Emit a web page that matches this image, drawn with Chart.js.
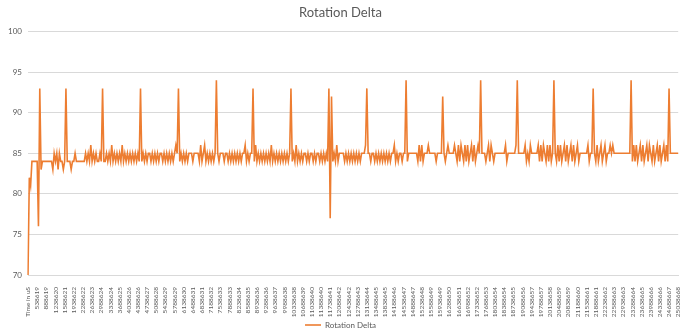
<!DOCTYPE html>
<html>
<head>
<meta charset="utf-8">
<title>Rotation Delta</title>
<script src="https://cdn.jsdelivr.net/npm/chart.js@4.4.1/dist/chart.umd.min.js"></script>
<style>
  html, body { margin: 0; padding: 0; background: #fff; }
  #wrap { width: 690px; height: 328px; position: relative; }
</style>
</head>
<body>
<div id="wrap"><canvas id="chart"></canvas></div>
<script>
  "use strict";

  var SERIES_NAME = "Rotation Delta";

  // axis labels Excel shows (one every 7 samples, first one is the header cell)
  var TIME_TICKS = [
    "Time in uS", "538619", "888619", "1238620", "1588621", "1938622", "2288622", "2638623",
    "2988624", "3338624", "3688625", "4038626", "4388626", "4738627", "5088628", "5438629",
    "5788629", "6138630", "6488631", "6838631", "7188632", "7538633", "7888633", "8238634",
    "8588635", "8938636", "9288636", "9638637", "9988638", "10338638", "10688639", "11038640",
    "11388640", "11738641", "12088642", "12438642", "12788643", "13138644", "13488645", "13838645",
    "14188646", "14538647", "14888647", "15238648", "15588649", "15938649", "16288650", "16638651",
    "16988652", "17338652", "17688653", "18038654", "18388654", "18738655", "19088656", "19438657",
    "19788657", "20138658", "20488659", "20838659", "21188660", "21538661", "21888661", "22238662",
    "22588663", "22938663", "23288664", "23638665", "23988666", "24338666", "24688667", "25038668"
  ];
  var TICK_EVERY = 7;

  var Y_MIN = 70, Y_MAX = 100, Y_STEP = 5;

  // rotation delta, one row per labelled interval
  var DELTA = [
    70, 82, 81, 84, 84, 84, 84,
    84, 76, 93, 83, 84, 84, 84,
    84, 84, 84, 84, 84, 83, 85,
    84, 85, 83, 85, 84, 84, 83,
    84, 93, 84, 84, 84, 83, 84,
    84, 85, 84, 84, 84, 84, 84,
    84, 84, 85, 84, 85, 84, 86,
    84, 85, 84, 85, 84, 84, 85,
    84, 93, 84, 84, 85, 84, 85,
    84, 86, 84, 85, 84, 85, 84,
    85, 84, 86, 84, 85, 84, 85,
    84, 85, 84, 85, 84, 85, 84,
    85, 84, 93, 84, 85, 84, 85,
    84, 85, 85, 84, 85, 84, 85,
    84, 85, 84, 85, 85, 84, 85,
    84, 85, 84, 85, 84, 85, 84,
    85, 86, 85, 93, 84, 85, 84,
    85, 84, 85, 84, 85, 85, 85,
    84, 85, 85, 85, 85, 84, 86,
    84, 85, 86, 84, 85, 84, 85,
    84, 85, 84, 85, 94, 85, 84,
    85, 85, 85, 84, 85, 85, 84,
    85, 84, 85, 84, 85, 84, 85,
    84, 85, 84, 85, 85, 86, 84,
    85, 84, 85, 85, 93, 84, 86,
    84, 85, 84, 85, 84, 85, 84,
    85, 84, 85, 84, 86, 84, 85,
    84, 85, 84, 85, 84, 85, 84,
    85, 84, 85, 84, 85, 93, 84,
    85, 84, 86, 84, 85, 84, 85,
    84, 85, 85, 84, 85, 84, 85,
    85, 84, 85, 84, 85, 85, 84,
    85, 84, 85, 84, 85, 84, 93,
    77, 92, 84, 85, 84, 86, 84,
    85, 85, 85, 85, 84, 85, 84,
    85, 84, 85, 84, 85, 84, 85,
    84, 85, 84, 85, 85, 85, 86,
    93, 85, 85, 84, 85, 85, 84,
    85, 84, 85, 84, 85, 84, 85,
    84, 85, 84, 85, 84, 85, 85,
    86, 84, 85, 84, 85, 85, 84,
    85, 85, 94, 84, 85, 85, 85,
    85, 85, 85, 85, 84, 86, 84,
    86, 84, 85, 85, 85, 86, 85,
    85, 85, 85, 85, 84, 85, 85,
    85, 85, 92, 85, 84, 85, 86,
    85, 85, 85, 85, 86, 85, 84,
    86, 84, 86, 85, 84, 86, 84,
    86, 84, 85, 86, 84, 86, 84,
    85, 86, 85, 94, 85, 85, 85,
    84, 85, 86, 84, 86, 85, 84,
    85, 85, 85, 85, 85, 85, 85,
    85, 86, 84, 85, 85, 85, 85,
    85, 85, 86, 94, 85, 85, 85,
    85, 85, 86, 84, 85, 84, 86,
    85, 85, 85, 85, 85, 86, 84,
    86, 84, 86, 85, 84, 86, 84,
    86, 84, 85, 94, 85, 84, 86,
    84, 86, 84, 85, 86, 84, 86,
    84, 85, 86, 84, 86, 84, 85,
    86, 84, 85, 85, 85, 85, 85,
    85, 86, 84, 85, 85, 93, 85,
    84, 86, 84, 85, 86, 84, 85,
    86, 84, 85, 85, 86, 85, 86,
    85, 85, 85, 85, 85, 85, 85,
    85, 85, 85, 85, 85, 85, 94,
    84, 86, 84, 86, 84, 85, 86,
    84, 86, 84, 85, 86, 84, 86,
    85, 84, 86, 84, 85, 86, 84,
    86, 84, 85, 86, 84, 86, 84,
    93, 85, 85, 85, 85, 85, 85,
    85
  ];

  var FONT = "Lato, 'Open Sans', sans-serif";
  var TEXT = "#595959";
  var GRID = "#d9d9d9";
  var ORANGE = "#ed7d31";

  // only every 7th category carries a label, the rest stay blank
  var labels = DELTA.map(function (v, i) {
    return i % TICK_EVERY === 0 ? (TIME_TICKS[i / TICK_EVERY] || "") : "";
  });

  new Chart(document.getElementById("chart"), {
    type: "line",
    data: {
      labels: labels,
      datasets: [{
        label: SERIES_NAME,
        data: DELTA,
        borderColor: ORANGE,
        backgroundColor: ORANGE,
        borderWidth: 1.6,
        pointRadius: 0,
        pointStyle: "line",
        tension: 0,
        fill: false
      }]
    },
    options: {
      responsive: true,
      maintainAspectRatio: false,
      animation: false,
      layout: { padding: { left: 0, right: 9, top: 0, bottom: -11 } },
      plugins: {
        title: {
          display: true,
          text: SERIES_NAME,
          color: TEXT,
          font: { family: FONT, size: 13, weight: "normal" },
          padding: { top: 5, bottom: 11 }
        },
        legend: {
          position: "bottom",
          labels: {
            usePointStyle: true,
            pointStyle: "line",
            pointStyleWidth: 16,
            boxHeight: 6,
            padding: 0,
            color: TEXT,
            font: { family: FONT, size: 8 }
          }
        },
        tooltip: { enabled: false }
      },
      scales: {
        x: {
          type: "category",
          grid: { display: false },
          border: { display: true, color: GRID },
          ticks: {
            autoSkip: false,
            maxRotation: 90,
            minRotation: 90,
            padding: 4,
            color: TEXT,
            font: { family: FONT, size: 6.5 }
          },
          afterFit: function (s) { s.height = 46; }
        },
        y: {
          min: Y_MIN,
          max: Y_MAX,
          ticks: {
            stepSize: Y_STEP,
            padding: 6,
            color: TEXT,
            font: { family: FONT, size: 8 }
          },
          grid: { color: GRID, drawTicks: false },
          border: { display: false },
          afterFit: function (s) { s.width = 28; }
        }
      }
    }
  });
</script>
</body>
</html>
